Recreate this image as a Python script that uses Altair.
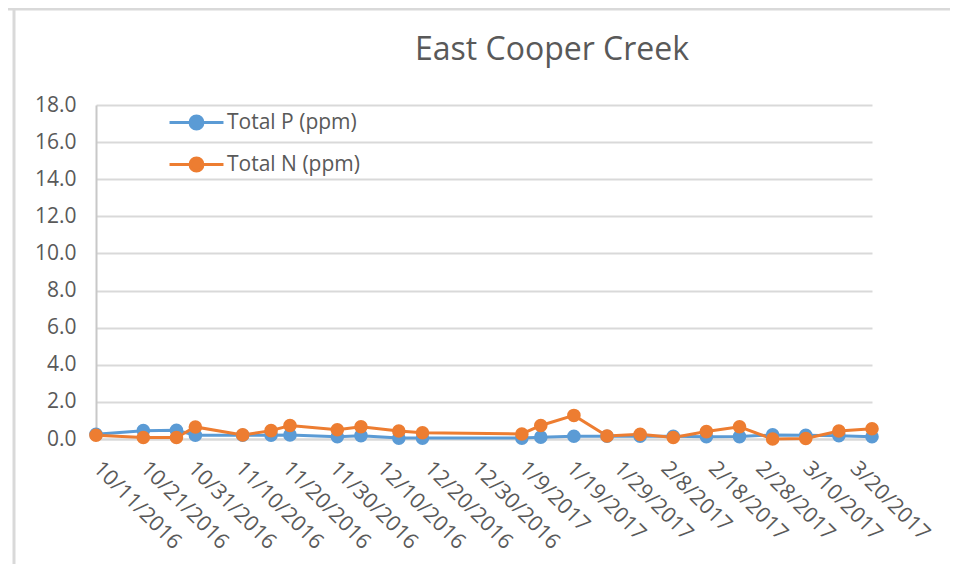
import altair as alt
import pandas as pd

dates = ["2016-10-11", "2016-10-21", "2016-10-28", "2016-11-01", "2016-11-11", "2016-11-17",
         "2016-11-21", "2016-12-01", "2016-12-06", "2016-12-14", "2016-12-19", "2017-01-09",
         "2017-01-13", "2017-01-20", "2017-01-27", "2017-02-03", "2017-02-10", "2017-02-17",
         "2017-02-24", "2017-03-03", "2017-03-10", "2017-03-17", "2017-03-24"]
total_p = [0.25, 0.45, 0.47, 0.20, 0.20, 0.20, 0.22, 0.12, 0.18, 0.05, 0.05, 0.05,
           0.10, 0.15, 0.15, 0.15, 0.15, 0.12, 0.13, 0.22, 0.20, 0.18, 0.12]
total_n = [0.20, 0.08, 0.08, 0.65, 0.22, 0.45, 0.73, 0.50, 0.66, 0.43, 0.34, 0.27,
           0.73, 1.27, 0.16, 0.25, 0.08, 0.40, 0.66, 0.00, 0.03, 0.43, 0.55]
series_names = ["Total P (ppm)", "Total N (ppm)"]
series_colors = ["#5B9BD5", "#ED7D31"]
tick_dates = [(2016, 10, 11), (2016, 10, 21), (2016, 10, 31), (2016, 11, 10), (2016, 11, 20),
              (2016, 11, 30), (2016, 12, 10), (2016, 12, 20), (2016, 12, 30), (2017, 1, 9),
              (2017, 1, 19), (2017, 1, 29), (2017, 2, 8), (2017, 2, 18), (2017, 2, 28),
              (2017, 3, 10), (2017, 3, 20)]
y_ticks = [0, 2, 4, 6, 8, 10, 12, 14, 16, 18]

rows = []
for d, p, n in zip(dates, total_p, total_n):
    rows.append({"date": d + "T00:00:00", "series": series_names[0], "value": p})
    rows.append({"date": d + "T00:00:00", "series": series_names[1], "value": n})
df = pd.DataFrame(rows)

FONT = "Open Sans"
GREY = "#595959"
GRID = "#d9d9d9"

legend_path = ("M-1.42,0L1.42,0"
               "M-0.34,0A0.34,0.34 0 1,0 0.34,0A0.34,0.34 0 1,0 -0.34,0Z")

x_enc = alt.X("date:T",
              scale=alt.Scale(domain=[alt.DateTime(year=2016, month=10, date=11),
                                      alt.DateTime(year=2017, month=3, date=24)], nice=False),
              axis=alt.Axis(values=[alt.DateTime(year=y, month=m, date=d) for y, m, d in tick_dates],
                            format="%-m/%-d/%Y", formatType="time", labelAngle=45,
                            labelAlign="left", labelBaseline="middle", labelPadding=26,
                            labelFontSize=21.5, labelColor=GREY, labelFont=FONT,
                            grid=False, ticks=False, domainColor=GRID, domainWidth=2,
                            title=None, labelOverlap=False))
y_enc = alt.Y("value:Q",
              scale=alt.Scale(domain=[0, 18], nice=False),
              axis=alt.Axis(values=y_ticks, format=".1f", labelFontSize=21, labelColor=GREY,
                            labelFont=FONT, labelPadding=20, grid=True, gridColor=GRID,
                            gridWidth=2, ticks=False, domainColor="#c8c8c8", domainWidth=2,
                            title=None))
color_enc = alt.Color("series:N",
                      scale=alt.Scale(domain=series_names, range=series_colors),
                      legend=alt.Legend(title=None, orient="none", legendX=80, legendY=-3,
                                        symbolType=legend_path, symbolSize=1444,
                                        symbolStrokeWidth=3, labelOffset=10,
                                        labelFontSize=21, labelColor=GREY, labelFont=FONT,
                                        rowPadding=9, padding=0))

base = alt.Chart(df)
lines = base.mark_line(strokeWidth=3).encode(x=x_enc, y=y_enc, color=color_enc,
                                             order=alt.Order("date:T"))
points = base.mark_point(filled=True, size=185, opacity=1).encode(x=x_enc, y=y_enc, color=color_enc)

frame_df = pd.DataFrame({"k": [0]})
frame_top = alt.Chart(frame_df).mark_rule(color=GRID, strokeWidth=3).encode(
    x=alt.value(-96), x2=alt.value(870), y=alt.value(-96))
frame_left = alt.Chart(frame_df).mark_rule(color=GRID, strokeWidth=3).encode(
    x=alt.value(-82), y=alt.value(-100), y2=alt.value(480))

chart = alt.layer(frame_top, frame_left, lines, points).properties(
    width=776, height=334,
    title=alt.Title("East Cooper Creek", fontSize=32, font=FONT, fontWeight="normal",
                    color=GREY, anchor="middle", dx=68, offset=-88, baseline="alphabetic"),
    autosize=alt.AutoSizeParams(type="none"),
    padding={"left": 88, "top": 97, "right": 78, "bottom": 125},
).configure_view(stroke=None)

chart.save("out.html", embed_options={"renderer": "svg", "actions": False})
